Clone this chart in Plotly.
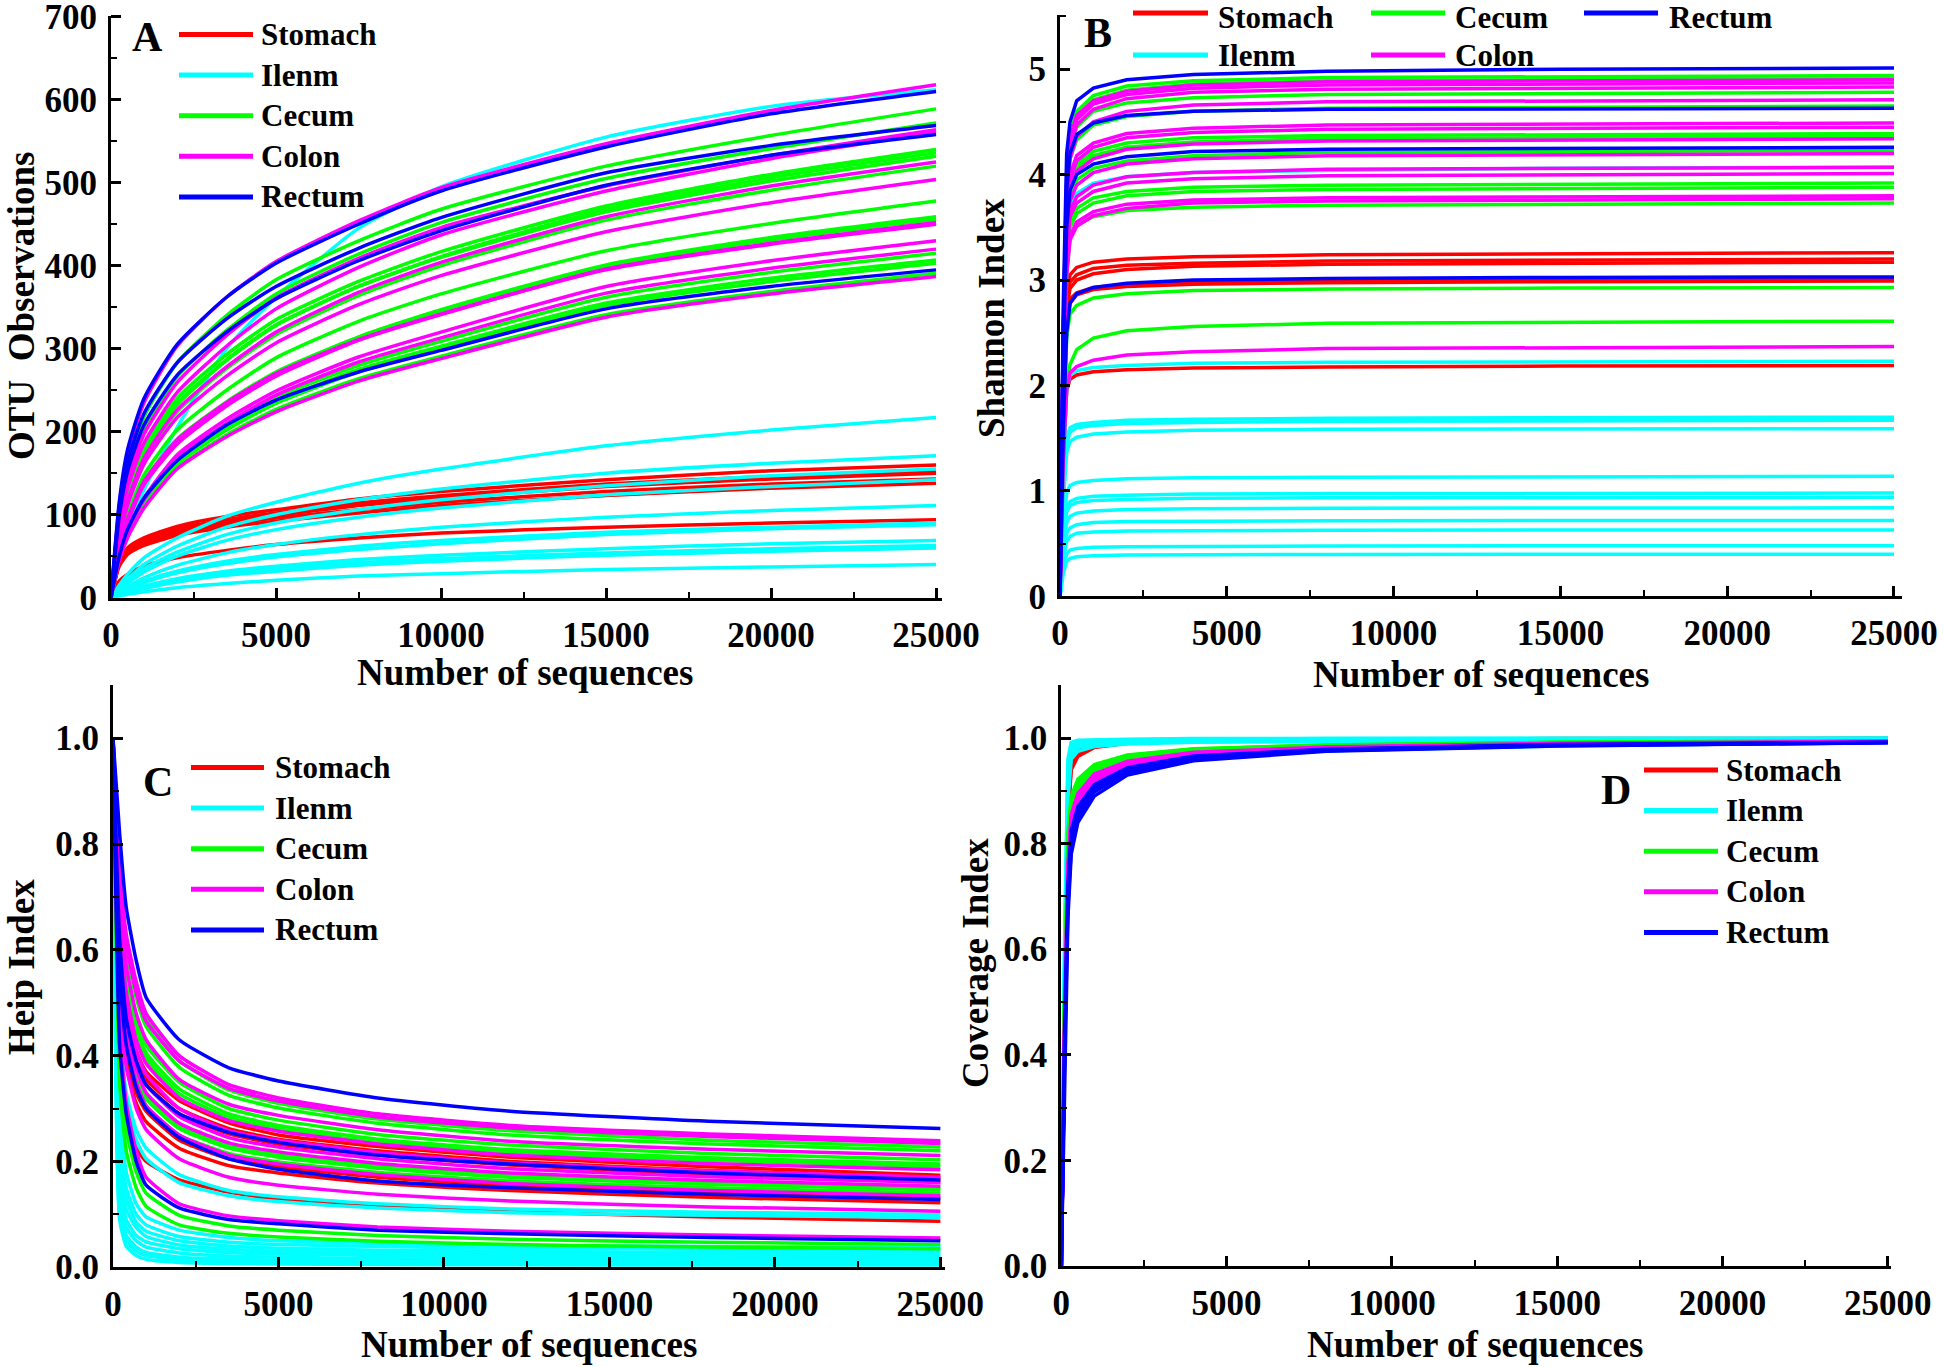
import plotly.graph_objects as go

# ---------------- data ----------------
GROUPS = ["Stomach", "Ilenm", "Cecum", "Colon", "Rectum"]
COLORS = ["#FF0000", "#00FFFF", "#00FF00", "#FF00FF", "#0000FF"]

# Panel A : OTU observations
A_X = [0, 250, 500, 1000, 2000, 3500, 5000, 7500, 10000, 15000, 20000, 25000]
A_STOMACH = [
    [0, 45, 60, 72, 86, 98, 106, 119, 128, 142, 153, 160],
    [0, 42, 57, 69, 83, 94, 102, 114, 123, 137, 146, 153],
    [0, 40, 55, 67, 80, 91, 99, 111, 120, 134, 143, 150],
    [0, 41, 55, 66, 78, 88, 96, 106, 115, 128, 137, 143],
    [0, 38, 52, 63, 75, 85, 92, 102, 111, 123, 132, 138],
    [0, 20, 28, 38, 48, 57, 64, 72, 78, 85, 90, 94],
]
A_ILENM = [
    [0, 50, 80, 130, 205, 300, 362, 445, 495, 555, 592, 612],
    [0, 15, 28, 48, 72, 98, 115, 138, 155, 183, 202, 217],
    [0, 12, 22, 40, 62, 85, 100, 118, 131, 150, 162, 171],
    [0, 10, 19, 35, 55, 76, 90, 106, 118, 135, 147, 155],
    [0, 9, 17, 31, 50, 69, 82, 97, 108, 124, 134, 142],
    [0, 7, 13, 24, 39, 54, 64, 76, 85, 97, 105, 111],
    [0, 6, 11, 20, 32, 44, 52, 62, 69, 79, 85, 90],
    [0, 5, 10, 18, 30, 41, 49, 58, 65, 76, 83, 88],
    [0, 4, 8, 14, 23, 32, 38, 46, 51, 59, 65, 69],
    [0, 4, 7, 13, 21, 29, 35, 42, 47, 54, 59, 63],
    [0, 3, 6, 11, 19, 27, 32, 39, 44, 51, 56, 60],
    [0, 2, 4, 7, 12, 17, 21, 26, 29, 34, 37, 40],
]
A_CECUM = [
    [0, 100, 158, 218, 283, 340, 383, 430, 468, 520, 557, 589],
    [0, 92, 146, 203, 266, 322, 366, 414, 452, 505, 541, 572],
    [0, 80, 127, 181, 240, 293, 335, 381, 417, 472, 510, 540],
    [0, 77, 122, 174, 232, 286, 328, 375, 411, 468, 506, 536],
    [0, 78, 124, 176, 234, 287, 329, 375, 410, 465, 502, 532],
    [0, 73, 114, 166, 224, 276, 317, 364, 400, 455, 491, 520],
    [0, 64, 100, 148, 202, 250, 289, 333, 366, 418, 451, 478],
    [0, 60, 92, 138, 188, 234, 271, 314, 347, 401, 434, 459],
    [0, 62, 95, 141, 191, 236, 272, 314, 346, 399, 431, 456],
    [0, 50, 79, 116, 166, 208, 241, 280, 309, 362, 392, 415],
    [0, 49, 77, 114, 163, 204, 236, 275, 303, 355, 385, 407],
    [0, 48, 76, 113, 161, 202, 234, 272, 300, 352, 381, 403],
    [0, 47, 74, 109, 156, 196, 227, 264, 291, 341, 369, 391],
]
A_COLON = [
    [0, 111, 173, 235, 303, 362, 405, 454, 494, 547, 587, 618],
    [0, 90, 141, 197, 259, 316, 361, 409, 446, 496, 533, 564],
    [0, 84, 132, 186, 247, 303, 348, 398, 437, 490, 529, 561],
    [0, 74, 116, 168, 226, 278, 320, 368, 404, 459, 496, 525],
    [0, 71, 111, 161, 217, 267, 307, 353, 388, 441, 476, 504],
    [0, 59, 90, 136, 185, 231, 267, 310, 341, 396, 427, 452],
    [0, 62, 95, 140, 190, 235, 270, 311, 342, 395, 426, 450],
    [0, 52, 82, 120, 172, 215, 249, 290, 320, 375, 406, 430],
    [0, 50, 80, 118, 168, 210, 244, 284, 313, 367, 397, 420],
    [0, 45, 72, 108, 155, 194, 224, 261, 288, 338, 366, 387],
]
A_RECTUM = [
    [0, 115, 178, 240, 305, 362, 403, 450, 490, 543, 583, 610],
    [0, 105, 163, 222, 283, 336, 375, 421, 458, 512, 545, 569],
    [0, 98, 152, 208, 268, 320, 360, 406, 442, 497, 533, 558],
    [0, 50, 82, 120, 165, 208, 238, 272, 298, 348, 375, 395],
]

# Panel B : Shannon index
B_X = [0, 100, 200, 300, 500, 1000, 2000, 4000, 8000, 15000, 25000]
B_STOMACH = [
    [0, 1.9, 2.85, 3.05, 3.12, 3.17, 3.20, 3.22, 3.24, 3.25, 3.26],
    [0, 1.85, 2.78, 2.98, 3.05, 3.11, 3.14, 3.16, 3.18, 3.19, 3.20],
    [0, 1.8, 2.72, 2.92, 3.00, 3.06, 3.10, 3.13, 3.15, 3.16, 3.17],
    [0, 1.75, 2.6, 2.82, 2.88, 2.93, 2.96, 2.98, 2.995, 3.005, 3.01],
    [0, 1.7, 2.55, 2.78, 2.86, 2.91, 2.94, 2.96, 2.975, 2.985, 2.99],
    [0, 1.35, 1.95, 2.06, 2.10, 2.13, 2.15, 2.165, 2.175, 2.185, 2.19],
]
B_ILENM = [
    [0, 2.2, 3.35, 3.7, 3.82, 3.92, 3.98, 4.02, 4.04, 4.06, 4.07],
    [0, 1.3, 1.95, 2.1, 2.14, 2.17, 2.19, 2.21, 2.22, 2.225, 2.23],
    [0, 1.0, 1.5, 1.6, 1.63, 1.65, 1.67, 1.68, 1.69, 1.695, 1.70],
    [0, 0.95, 1.45, 1.56, 1.6, 1.62, 1.64, 1.65, 1.66, 1.665, 1.67],
    [0, 0.9, 1.36, 1.47, 1.51, 1.54, 1.56, 1.575, 1.585, 1.59, 1.59],
    [0, 0.65, 0.98, 1.05, 1.08, 1.10, 1.115, 1.125, 1.13, 1.135, 1.14],
    [0, 0.55, 0.84, 0.9, 0.93, 0.95, 0.96, 0.97, 0.975, 0.978, 0.98],
    [0, 0.5, 0.8, 0.86, 0.89, 0.91, 0.92, 0.93, 0.935, 0.938, 0.94],
    [0, 0.45, 0.7, 0.76, 0.79, 0.81, 0.825, 0.832, 0.836, 0.838, 0.84],
    [0, 0.4, 0.6, 0.65, 0.68, 0.70, 0.71, 0.715, 0.718, 0.72, 0.72],
    [0, 0.35, 0.52, 0.57, 0.6, 0.61, 0.62, 0.625, 0.628, 0.63, 0.63],
    [0, 0.27, 0.4, 0.44, 0.455, 0.465, 0.472, 0.476, 0.478, 0.48, 0.48],
    [0, 0.22, 0.33, 0.36, 0.375, 0.385, 0.392, 0.396, 0.398, 0.4, 0.40],
]
B_CECUM = [
    [0, 2.6, 3.95, 4.38, 4.6, 4.75, 4.84, 4.89, 4.92, 4.93, 4.94],
    [0, 2.5, 3.9, 4.33, 4.55, 4.71, 4.8, 4.86, 4.89, 4.90, 4.91],
    [0, 2.5, 3.85, 4.25, 4.45, 4.6, 4.68, 4.73, 4.76, 4.77, 4.78],
    [0, 2.45, 3.75, 4.15, 4.33, 4.47, 4.55, 4.6, 4.63, 4.64, 4.65],
    [0, 2.35, 3.55, 3.95, 4.1, 4.22, 4.3, 4.35, 4.37, 4.38, 4.39],
    [0, 2.3, 3.5, 3.9, 4.06, 4.18, 4.26, 4.31, 4.34, 4.35, 4.36],
    [0, 2.25, 3.45, 3.8, 3.95, 4.06, 4.13, 4.18, 4.21, 4.22, 4.23],
    [0, 2.1, 3.2, 3.55, 3.68, 3.78, 3.84, 3.88, 3.9, 3.91, 3.92],
    [0, 2.05, 3.15, 3.5, 3.63, 3.73, 3.8, 3.84, 3.86, 3.87, 3.88],
    [0, 2.0, 3.05, 3.4, 3.52, 3.6, 3.66, 3.69, 3.71, 3.72, 3.73],
    [0, 1.6, 2.45, 2.68, 2.76, 2.83, 2.87, 2.9, 2.915, 2.925, 2.93],
    [0, 1.3, 2.0, 2.2, 2.34, 2.45, 2.52, 2.56, 2.59, 2.60, 2.61],
]
B_COLON = [
    [0, 2.6, 3.95, 4.35, 4.56, 4.7, 4.79, 4.85, 4.88, 4.89, 4.90],
    [0, 2.55, 3.9, 4.3, 4.52, 4.67, 4.76, 4.82, 4.85, 4.86, 4.87],
    [0, 2.5, 3.85, 4.25, 4.47, 4.62, 4.72, 4.78, 4.81, 4.82, 4.83],
    [0, 2.45, 3.75, 4.15, 4.36, 4.5, 4.6, 4.66, 4.69, 4.70, 4.71],
    [0, 2.4, 3.6, 4.0, 4.18, 4.3, 4.39, 4.44, 4.47, 4.48, 4.49],
    [0, 2.35, 3.55, 3.95, 4.13, 4.26, 4.35, 4.4, 4.43, 4.44, 4.45],
    [0, 2.3, 3.5, 3.87, 4.03, 4.15, 4.24, 4.29, 4.32, 4.33, 4.34],
    [0, 2.2, 3.4, 3.75, 3.9, 4.02, 4.1, 4.15, 4.18, 4.19, 4.20],
    [0, 2.15, 3.3, 3.65, 3.79, 3.9, 3.98, 4.02, 4.05, 4.06, 4.07],
    [0, 2.1, 3.25, 3.6, 3.73, 3.84, 3.92, 3.96, 3.99, 4.0, 4.01],
    [0, 2.0, 3.08, 3.42, 3.55, 3.65, 3.72, 3.76, 3.78, 3.79, 3.80],
    [0, 1.95, 3.05, 3.38, 3.51, 3.61, 3.68, 3.73, 3.75, 3.76, 3.77],
    [0, 1.3, 1.95, 2.12, 2.18, 2.24, 2.29, 2.32, 2.35, 2.36, 2.37],
]
B_RECTUM = [
    [0, 2.8, 4.2, 4.5, 4.7, 4.82, 4.9, 4.95, 4.98, 5.0, 5.01],
    [0, 2.5, 3.85, 4.2, 4.38, 4.49, 4.56, 4.6, 4.62, 4.625, 4.63],
    [0, 2.3, 3.5, 3.85, 4.0, 4.1, 4.17, 4.22, 4.24, 4.25, 4.26],
    [0, 1.6, 2.5, 2.78, 2.87, 2.93, 2.97, 3.0, 3.015, 3.025, 3.03],
]

# Panel C : Heip index
C_X = [0, 200, 400, 700, 1000, 2000, 3500, 5000, 8000, 12000, 18000, 25000]
C_STOMACH = [
    [1.0, 0.58, 0.47, 0.41, 0.37, 0.315, 0.273, 0.25, 0.228, 0.208, 0.19, 0.174],
    [1.0, 0.56, 0.45, 0.39, 0.355, 0.3, 0.262, 0.242, 0.22, 0.2, 0.183, 0.168],
    [1.0, 0.55, 0.44, 0.38, 0.345, 0.29, 0.252, 0.233, 0.212, 0.193, 0.176, 0.162],
    [1.0, 0.5, 0.4, 0.33, 0.295, 0.24, 0.205, 0.19, 0.17, 0.155, 0.142, 0.131],
    [1.0, 0.48, 0.38, 0.31, 0.275, 0.225, 0.192, 0.178, 0.159, 0.145, 0.132, 0.122],
    [1.0, 0.38, 0.27, 0.225, 0.2, 0.165, 0.142, 0.128, 0.116, 0.105, 0.095, 0.087],
]
C_ILENM = [
    [1.0, 0.45, 0.33, 0.26, 0.225, 0.175, 0.145, 0.133, 0.12, 0.11, 0.104, 0.0995],
    [1.0, 0.42, 0.31, 0.24, 0.205, 0.16, 0.135, 0.124, 0.112, 0.103, 0.098, 0.094],
    [1.0, 0.3, 0.18, 0.12, 0.095, 0.07, 0.056, 0.05, 0.045, 0.041, 0.039, 0.037],
    [1.0, 0.26, 0.15, 0.1, 0.08, 0.058, 0.047, 0.043, 0.039, 0.036, 0.034, 0.032],
    [1.0, 0.22, 0.13, 0.085, 0.068, 0.05, 0.04, 0.036, 0.032, 0.03, 0.028, 0.027],
    [1.0, 0.2, 0.11, 0.075, 0.058, 0.042, 0.034, 0.03, 0.027, 0.025, 0.023, 0.022],
    [1.0, 0.17, 0.09, 0.06, 0.048, 0.035, 0.028, 0.025, 0.022, 0.02, 0.019, 0.018],
    [1.0, 0.15, 0.075, 0.05, 0.038, 0.027, 0.021, 0.019, 0.016, 0.015, 0.014, 0.013],
    [1.0, 0.12, 0.06, 0.038, 0.028, 0.019, 0.015, 0.013, 0.011, 0.01, 0.0095, 0.009],
    [1.0, 0.1, 0.05, 0.03, 0.022, 0.014, 0.01, 0.009, 0.008, 0.007, 0.0065, 0.006],
    [1.0, 0.09, 0.04, 0.022, 0.015, 0.009, 0.007, 0.006, 0.005, 0.0045, 0.0042, 0.004],
]
C_CECUM = [
    [1.0, 0.75, 0.62, 0.53, 0.47, 0.39, 0.335, 0.31, 0.28, 0.258, 0.24, 0.227],
    [1.0, 0.73, 0.6, 0.51, 0.455, 0.378, 0.325, 0.301, 0.272, 0.25, 0.233, 0.220],
    [1.0, 0.7, 0.56, 0.47, 0.42, 0.35, 0.3, 0.278, 0.251, 0.231, 0.215, 0.203],
    [1.0, 0.68, 0.54, 0.455, 0.405, 0.337, 0.29, 0.268, 0.242, 0.222, 0.207, 0.195],
    [1.0, 0.66, 0.53, 0.445, 0.395, 0.328, 0.283, 0.262, 0.236, 0.217, 0.202, 0.190],
    [1.0, 0.58, 0.45, 0.37, 0.325, 0.268, 0.23, 0.213, 0.192, 0.175, 0.161, 0.150],
    [1.0, 0.57, 0.44, 0.36, 0.318, 0.262, 0.225, 0.208, 0.187, 0.17, 0.157, 0.146],
    [1.0, 0.55, 0.42, 0.345, 0.305, 0.25, 0.215, 0.199, 0.179, 0.163, 0.15, 0.140],
    [1.0, 0.4, 0.26, 0.18, 0.14, 0.098, 0.078, 0.07, 0.06, 0.053, 0.047, 0.043],
    [1.0, 0.35, 0.22, 0.15, 0.115, 0.08, 0.064, 0.057, 0.049, 0.043, 0.038, 0.035],
]
C_COLON = [
    [1.0, 0.76, 0.63, 0.54, 0.48, 0.40, 0.345, 0.32, 0.29, 0.268, 0.252, 0.239],
    [1.0, 0.74, 0.61, 0.52, 0.465, 0.39, 0.338, 0.314, 0.284, 0.263, 0.247, 0.234],
    [1.0, 0.7, 0.57, 0.48, 0.43, 0.355, 0.308, 0.287, 0.26, 0.238, 0.223, 0.211],
    [1.0, 0.65, 0.52, 0.43, 0.385, 0.32, 0.277, 0.257, 0.233, 0.212, 0.196, 0.184],
    [1.0, 0.62, 0.5, 0.41, 0.365, 0.3, 0.258, 0.24, 0.217, 0.197, 0.182, 0.170],
    [1.0, 0.6, 0.48, 0.39, 0.345, 0.285, 0.245, 0.227, 0.205, 0.186, 0.171, 0.160],
    [1.0, 0.58, 0.46, 0.375, 0.33, 0.272, 0.235, 0.218, 0.196, 0.178, 0.164, 0.153],
    [1.0, 0.55, 0.43, 0.35, 0.305, 0.25, 0.212, 0.195, 0.175, 0.158, 0.145, 0.135],
    [1.0, 0.5, 0.38, 0.3, 0.26, 0.205, 0.17, 0.155, 0.138, 0.125, 0.114, 0.106],
    [1.0, 0.45, 0.31, 0.22, 0.17, 0.12, 0.097, 0.088, 0.076, 0.068, 0.061, 0.055],
]
C_RECTUM = [
    [1.0, 0.82, 0.68, 0.58, 0.51, 0.43, 0.377, 0.352, 0.32, 0.295, 0.276, 0.262],
    [1.0, 0.62, 0.47, 0.39, 0.345, 0.29, 0.255, 0.236, 0.212, 0.195, 0.178, 0.165],
    [1.0, 0.55, 0.42, 0.34, 0.3, 0.245, 0.205, 0.185, 0.163, 0.15, 0.138, 0.128],
    [1.0, 0.42, 0.29, 0.2, 0.155, 0.112, 0.09, 0.082, 0.07, 0.063, 0.056, 0.050],
]

# Panel D : Coverage index
D_X = [0, 100, 200, 300, 500, 1000, 2000, 4000, 8000, 15000, 25000]
D_STOMACH = [
    [0, 0.45, 0.90, 0.965, 0.980, 0.990, 0.995, 0.997, 0.998, 0.999, 0.999],
    [0, 0.42, 0.88, 0.955, 0.975, 0.987, 0.993, 0.996, 0.997, 0.998, 0.999],
    [0, 0.40, 0.86, 0.945, 0.968, 0.984, 0.991, 0.995, 0.997, 0.998, 0.998],
    [0, 0.38, 0.84, 0.94, 0.965, 0.982, 0.99, 0.994, 0.996, 0.997, 0.998],
    [0, 0.43, 0.89, 0.96, 0.978, 0.989, 0.994, 0.996, 0.997, 0.998, 0.999],
]
D_ILENM = [
    [0, 0.6, 0.95, 0.99, 0.994, 0.996, 0.997, 0.998, 0.999, 0.999, 0.999],
    [0, 0.58, 0.94, 0.985, 0.991, 0.994, 0.996, 0.997, 0.998, 0.998, 0.999],
    [0, 0.55, 0.93, 0.98, 0.988, 0.992, 0.995, 0.996, 0.997, 0.998, 0.998],
    [0, 0.5, 0.9, 0.97, 0.982, 0.988, 0.991, 0.993, 0.995, 0.996, 0.997],
    [0, 0.52, 0.91, 0.975, 0.985, 0.99, 0.993, 0.995, 0.996, 0.997, 0.998],
    [0, 0.62, 0.96, 0.992, 0.996, 0.997, 0.998, 0.999, 0.999, 0.999, 1.0],
    [0, 0.45, 0.72, 0.82, 0.88, 0.92, 0.945, 0.963, 0.976, 0.985, 0.992],
    [0, 0.48, 0.88, 0.96, 0.975, 0.984, 0.989, 0.992, 0.994, 0.996, 0.997],
]
D_CECUM = [
    [0, 0.5, 0.80, 0.88, 0.915, 0.945, 0.965, 0.978, 0.986, 0.991, 0.994],
    [0, 0.48, 0.78, 0.87, 0.905, 0.94, 0.962, 0.976, 0.985, 0.99, 0.994],
    [0, 0.46, 0.76, 0.86, 0.9, 0.935, 0.958, 0.974, 0.984, 0.99, 0.993],
    [0, 0.45, 0.75, 0.85, 0.893, 0.93, 0.955, 0.972, 0.983, 0.989, 0.993],
    [0, 0.47, 0.77, 0.865, 0.9, 0.935, 0.96, 0.975, 0.985, 0.99, 0.994],
    [0, 0.52, 0.82, 0.89, 0.922, 0.95, 0.968, 0.98, 0.987, 0.992, 0.995],
    [0, 0.49, 0.79, 0.875, 0.91, 0.942, 0.963, 0.977, 0.986, 0.991, 0.994],
    [0, 0.5, 0.81, 0.885, 0.918, 0.948, 0.967, 0.979, 0.987, 0.992, 0.995],
]
D_COLON = [
    [0, 0.46, 0.75, 0.85, 0.89, 0.928, 0.953, 0.971, 0.982, 0.989, 0.993],
    [0, 0.44, 0.73, 0.84, 0.88, 0.92, 0.948, 0.968, 0.981, 0.988, 0.993],
    [0, 0.43, 0.72, 0.83, 0.875, 0.915, 0.945, 0.966, 0.98, 0.988, 0.992],
    [0, 0.45, 0.74, 0.845, 0.885, 0.925, 0.951, 0.97, 0.982, 0.989, 0.993],
    [0, 0.42, 0.71, 0.82, 0.87, 0.91, 0.942, 0.964, 0.979, 0.987, 0.992],
    [0, 0.47, 0.76, 0.855, 0.895, 0.932, 0.956, 0.973, 0.983, 0.99, 0.994],
    [0, 0.44, 0.735, 0.835, 0.878, 0.918, 0.947, 0.967, 0.98, 0.988, 0.993],
    [0, 0.41, 0.70, 0.815, 0.865, 0.908, 0.94, 0.962, 0.978, 0.987, 0.992],
]
D_RECTUM = [
    [0, 0.42, 0.70, 0.81, 0.86, 0.905, 0.94, 0.963, 0.978, 0.987, 0.992],
    [0, 0.40, 0.68, 0.79, 0.85, 0.898, 0.935, 0.96, 0.976, 0.986, 0.991],
    [0, 0.38, 0.66, 0.78, 0.84, 0.89, 0.93, 0.957, 0.975, 0.985, 0.991],
    [0, 0.44, 0.72, 0.825, 0.87, 0.912, 0.944, 0.966, 0.979, 0.988, 0.992],
]

X_TICKS = [0, 5000, 10000, 15000, 20000, 25000]
A_YTICKS = [0, 100, 200, 300, 400, 500, 600, 700]
B_YTICKS = [0, 1, 2, 3, 4, 5]
CD_YTICKS = [0.0, 0.2, 0.4, 0.6, 0.8, 1.0]
X_TITLE = "Number of sequences"
Y_TITLES = ["OTU\u00a0\u00a0Observations", "Shannon Index", "Heip Index", "Coverage Index"]
PANEL_LETTERS = ["A", "B", "C", "D"]

# ---------------- figure ----------------
W, H = 1944, 1367
FONT = "Liberation Serif, Times New Roman, serif"


def px(xp):
    return xp / W


def py(yp):
    return 1 - yp / H


panels = [
    dict(xs=A_X, groups=[A_STOMACH, A_ILENM, A_CECUM, A_COLON, A_RECTUM], shape="spline", smooth=0.6,
         xdom=[111, 942], ydom=[597.7, 15.5], xr=[0, 25180], yr=[0, 701.5],
         yticks=A_YTICKS, minor=50, fmt="d"),
    dict(xs=B_X, groups=[B_STOMACH, B_ILENM, B_CECUM, B_COLON, B_RECTUM], shape="linear", smooth=None,
         xdom=[1060, 1902], ydom=[596.4, 15.4], xr=[0, 25240], yr=[0, 5.51],
         yticks=B_YTICKS, minor=0.5, fmt="d"),
    dict(xs=C_X, groups=[C_STOMACH, C_ILENM, C_CECUM, C_COLON, C_RECTUM], shape="spline", smooth=0.5,
         xdom=[113, 945], ydom=[1267.2, 685.3], xr=[0, 25140], yr=[0, 1.1],
         yticks=CD_YTICKS, minor=0.1, fmt=".1f"),
    dict(xs=D_X, groups=[D_STOMACH, D_ILENM, D_CECUM, D_COLON, D_RECTUM], shape="linear", smooth=None,
         xdom=[1061.3, 1890.5], ydom=[1265.9, 685.3], xr=[0, 25080], yr=[0, 1.1],
         yticks=CD_YTICKS, minor=0.1, fmt=".1f"),
]

fig = go.Figure()
layout = dict(
    width=W, height=H, margin=dict(l=0, r=0, t=0, b=0, autoexpand=False),
    paper_bgcolor="white", plot_bgcolor="white", showlegend=False,
    font=dict(family=FONT, color="black"),
)

for i, p in enumerate(panels):
    n = "" if i == 0 else str(i + 1)
    xa, ya = "x" + n, "y" + n
    for gi, series in enumerate(p["groups"]):
        for s in series:
            assert len(s) == len(p["xs"])
            line = dict(color=COLORS[gi], width=3.5, shape=p["shape"])
            if p["smooth"] is not None:
                line["smoothing"] = p["smooth"]
            fig.add_trace(go.Scatter(
                x=p["xs"], y=s, mode="lines", xaxis=xa, yaxis=ya,
                line=line, name=GROUPS[gi], hoverinfo="skip",
            ))
    common = dict(showline=True, linecolor="black", linewidth=3, mirror=False,
                  showgrid=False, zeroline=False, ticks="inside", ticklen=10,
                  tickwidth=3, tickcolor="black", automargin=False,
                  ticklabeloverflow="allow",
                  tickfont=dict(family=FONT, size=35, color="black", weight="bold"))
    layout["xaxis" + n] = dict(
        common, domain=[px(p["xdom"][0]), px(p["xdom"][1])], range=p["xr"],
        anchor=ya, tickvals=X_TICKS, tickformat="d", ticklabelstandoff=4,
        minor=dict(ticks="inside", ticklen=6, tickwidth=2, tickcolor="black",
                   dtick=2500, tick0=0, showgrid=False),
    )
    layout["yaxis" + n] = dict(
        common, domain=[py(p["ydom"][0]), py(p["ydom"][1])], range=p["yr"],
        anchor=xa, tickvals=p["yticks"], tickformat=p["fmt"], ticklabelstandoff=4,
        minor=dict(ticks="inside", ticklen=6, tickwidth=2, tickcolor="black",
                   dtick=p["minor"], tick0=0, showgrid=False),
    )

fig.update_layout(**layout)

ann = []
shapes = []


def text(x, y, t, size, angle=0, xanchor="center", yanchor="middle"):
    ann.append(dict(x=px(x), y=py(y), xref="paper", yref="paper", text=t,
                    showarrow=False, textangle=angle, xanchor=xanchor, yanchor=yanchor,
                    font=dict(family=FONT, size=size, color="black", weight="bold")))


# axis titles
for (x, y) in [(525, 673), (1481, 674), (529, 1344), (1475, 1344)]:
    text(x, y, X_TITLE, 37)
for (x, y), t in zip([(21, 306), (992, 318), (21, 967), (975, 963)], Y_TITLES):
    text(x, y, t, 37, angle=-90)

# panel letters
for (x, y), t in zip([(147, 37), (1098, 33), (158, 782), (1616, 790)], PANEL_LETTERS):
    text(x, y, t, 42)


def legend_item(x0, x1, xt, y, gi, ytext=None, yanchor="middle"):
    shapes.append(dict(type="line", xref="paper", yref="paper",
                       x0=px(x0), x1=px(x1), y0=py(y), y1=py(y),
                       line=dict(color=COLORS[gi], width=5)))
    text(xt, y if ytext is None else ytext, GROUPS[gi], 31, xanchor="left", yanchor=yanchor)


# legend A, C, D (vertical)
for (x0, x1, xt, y0) in [(179, 253, 259, 34.5), (191, 264, 273, 767.5), (1644, 1718, 1724, 770)]:
    for gi in range(5):
        legend_item(x0, x1, xt, y0 + 40.6 * gi, gi)

# legend B (two rows, three columns)
cols = [(1133, 1208, 1216), (1371, 1445, 1453), (1584, 1658, 1667)]
for gi, (r, c) in zip(range(5), [(0, 0), (1, 0), (0, 1), (1, 1), (0, 2)]):
    x0, x1, xt = cols[c]
    if r == 0:
        legend_item(x0, x1, xt, 13, gi, ytext=-2, yanchor="top")
    else:
        legend_item(x0, x1, xt, 55, gi)

fig.update_layout(annotations=ann, shapes=shapes)

# the page must show the figure edge-to-edge (no default body margin)
POST = ("document.documentElement.style.margin='0';document.body.style.margin='0';"
        "document.body.style.padding='0';document.documentElement.style.overflow='hidden';"
        "document.body.style.overflow='hidden';")
fig.write_html("out.html", post_script=POST, config={"displayModeBar": False})
